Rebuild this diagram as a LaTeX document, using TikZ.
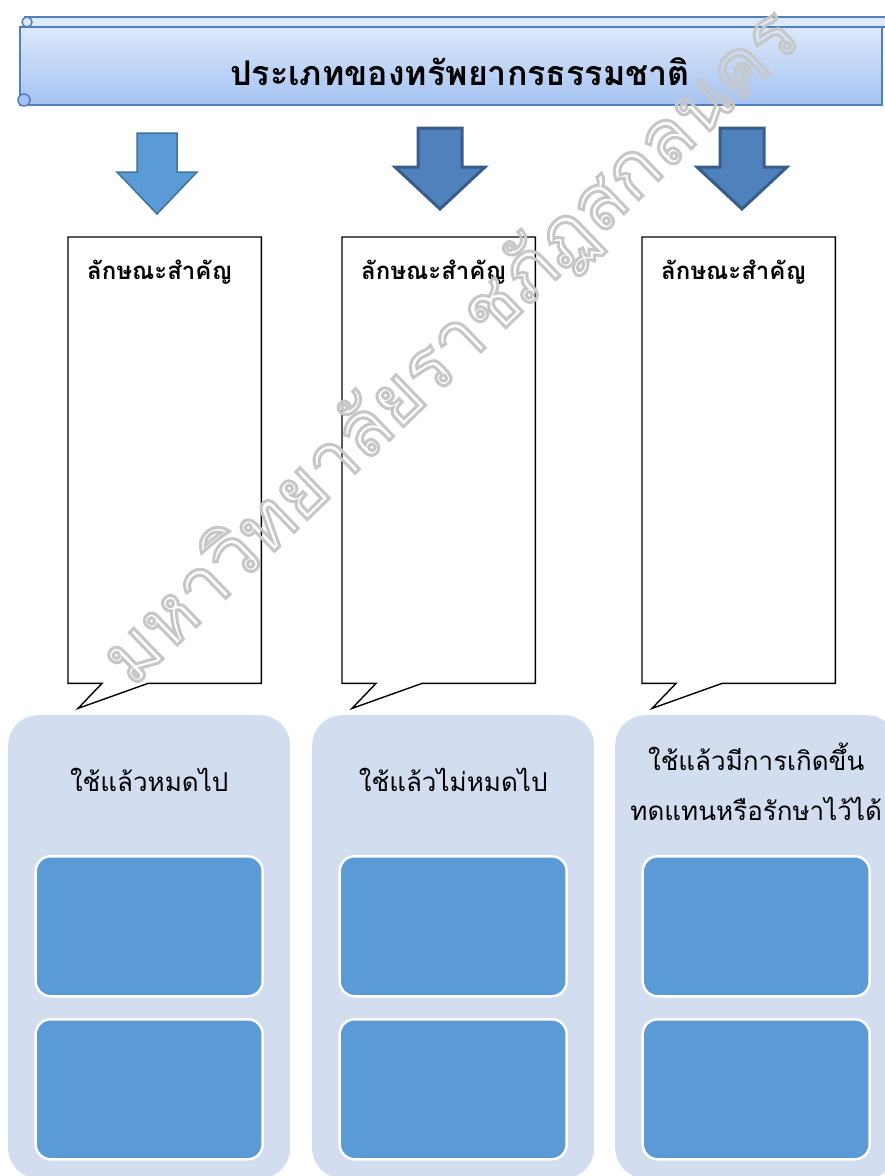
\documentclass[tikz,border=0pt]{standalone}
\usepackage{fontspec}
\newfontfamily\thaifont[Script=Thai]{Loma}
\usetikzlibrary{calc}

\definecolor{scrolltop}{HTML}{DDE8FA}
\definecolor{scrollbot}{HTML}{A4C2F1}
\definecolor{scrollline}{HTML}{4F81BD}
\definecolor{arrowlight}{HTML}{5B9BD5}
\definecolor{arrowlightline}{HTML}{41719C}
\definecolor{arrowdark}{HTML}{4F81BD}
\definecolor{arrowdarkline}{HTML}{385D8A}
\definecolor{panelfill}{HTML}{D2DEEF}
\definecolor{cellfill}{HTML}{5B9BD5}
\definecolor{markgray}{HTML}{C6C6C6}

\tikzset{
    title/.style = {
    	font=\thaifont\bfseries\fontsize{34}{40}\selectfont,
    	inner sep=0pt
    },
    calloutbox/.style = {
    	minimum width=193,
    	minimum height=446,
    	inner sep=0pt
    },
    callout/.style = {
    	draw=black,
    	line width=1.4,
    	fill=white
    },
    heading/.style = {
    	font=\thaifont\bfseries\fontsize{24}{28}\selectfont,
    	inner sep=0pt,
    	anchor=west
    },
    panel/.style = {
    	fill=panelfill,
    	rounded corners=30,
    	minimum width=282,
    	minimum height=463,
    	inner sep=0pt,
    	anchor=north west
    },
    panellabel/.style = {
    	font=\thaifont\fontsize{26}{50}\selectfont,
    	align=center,
    	inner sep=0pt
    },
    cell/.style = {
    	fill=cellfill,
    	draw=white,
    	line width=2.5,
    	rounded corners=15,
    	minimum width=227,
    	minimum height=140,
    	inner sep=0pt,
    	anchor=north
    },
    watermark/.style = {
    	font=\thaifont\fontsize{76}{80}\selectfont,
    	text=markgray,
    	inner sep=0pt
    }
}

\begin{document}
\begin{tikzpicture}[x=1pt, y=-1pt]

	\useasboundingbox (0,0) rectangle (885,1176);
	\clip (0,0) rectangle (885,1176);

	% Cabecera en forma de pergamino
	\shade[top color=scrolltop, bottom color=scrollbot] (20,27) rectangle (882,105);
	\draw[scrollline, line width=1.5] (20,27) rectangle (882,105);
	\draw[scrollline, line width=1.5, fill=scrolltop] (25,17) rectangle (890,27);
	\draw[scrollline, line width=1.5, fill=scrolltop] (27,22) circle (5);
	\draw[scrollline, line width=1.5, fill=scrollbot] (24,100) circle (6);
	\node[title] (title) at (460,72) {ประเภทของทรัพยากรธรรมชาติ};

	% Flechas
	\foreach \cx/\ty/\hw/\hh/\fc/\lc/\lw in {157/133/20/40/arrowlight/arrowlightline/1.5,
		440/128/22/45/arrowdark/arrowdarkline/3,
		742/128/22/45/arrowdark/arrowdarkline/3}
	{
		\filldraw[fill=\fc, draw=\lc, line width=\lw, line join=miter]
		(\cx-\hw,\ty) -- (\cx+\hw,\ty) -- (\cx+\hw,\ty+39) -- (\cx+\hh,\ty+39)
		-- (\cx,\ty+81) -- (\cx-\hh,\ty+39) -- (\cx-\hw,\ty+39) -- cycle;
	}

	% Globos
	\foreach \n/\x in {A/68, B/342, C/642}
	{
		\node[calloutbox, anchor=north west] (call\n) at (\x,237) {};
		\draw[callout] (call\n.north west) -- (call\n.north east) -- (call\n.south east)
		-- ($(call\n.south west)+(80,0)$) -- ($(call\n.south west)+(10,25)$)
		-- ($(call\n.south west)+(34,0)$) -- (call\n.south west) -- cycle;
		\node[heading] (head\n) at ($(call\n.north west)+(19,35)$) {ลักษณะสำคัญ};
	}

	% Paneles inferiores
	\node[panel] (panelA) at (8,715) {};
	\node[panel] (panelB) at (312,715) {};
	\node[panel] (panelC) at (615,715) {};

	\node[panellabel] (labelA) at ($(panelA.north)+(0,65)$) {ใช้แล้วหมดไป};
	\node[panellabel] (labelB) at ($(panelB.north)+(0,65)$) {ใช้แล้วไม่หมดไป};
	\node[panellabel] (labelC) at ($(panelC.north)+(0,67)$) {ใช้แล้วมีการเกิดขึ้น\\ทดแทนหรือรักษาไว้ได้};

	\foreach \n in {A,B,C}
	{
		\node[cell] (cell\n1) at ($(panel\n.north)+(0,140)$) {};
		\node[cell] (cell\n2) at ($(panel\n.north)+(0,303)$) {};
	}

	% Marca de agua
	\node[watermark, rotate=44] (mark) at (452,348)
		{\special{pdf:literal direct 1 Tr 3 w 0.78 0.78 0.78 RG}มหาวิทยาลัยราชภัฏสกลนคร\special{pdf:literal direct 0 Tr}};

\end{tikzpicture}
\end{document}
